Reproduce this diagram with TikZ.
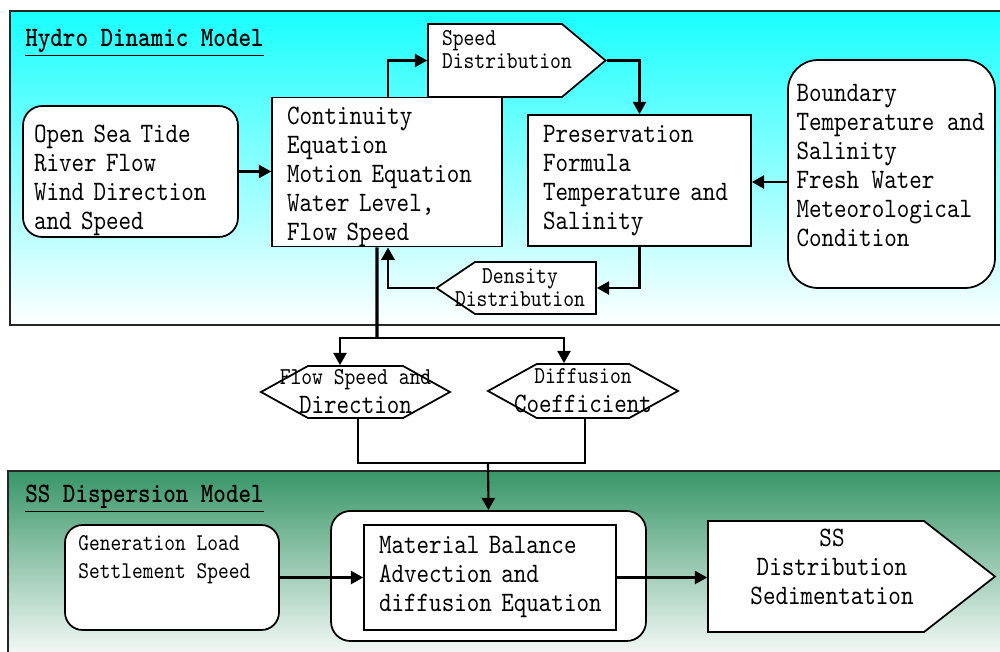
\documentclass[tikz,border=0pt]{standalone}
\usepackage{fontspec}
\usetikzlibrary{arrows.meta,shapes.symbols,positioning}

\newfontfamily\diagfont[FakeStretch=0.85,BoldFont=lmmonolt10-bold.otf]{lmmono10-regular.otf}
\newcommand{\dgnormal}{\fontsize{16}{16.5}\selectfont}
\newcommand{\dgsmall}{\fontsize{13.8}{13.1}\selectfont}
\newcommand{\dgcond}{\fontsize{13.7}{15.9}\selectfont}

\definecolor{hydrocyan}{RGB}{25,255,255}
\definecolor{ssgreen}{RGB}{56,150,104}

\begin{document}
\begin{tikzpicture}[x=0.02cm,y=-0.02cm,
	every node/.style={font=\diagfont\dgnormal},
	box/.style={draw=black,fill=white,line width=1pt,inner sep=0pt,align=left},
	rbox/.style={box,rounded corners=11pt},
	sig/.style={box,shape=signal,align=center},
	lbl/.style={anchor=north west,align=left,inner sep=0pt},
	link/.style={line width=1.2pt,-{Triangle[length=7pt,width=7.5pt]}},
	wire/.style={line width=1.2pt},
	trunk/.style={line width=1.8pt},
	panel/.style={draw=black!85,line width=0.9pt},
	heading/.style={anchor=west,inner sep=0pt,font=\diagfont\dgnormal\bfseries}]

	\useasboundingbox (0,0) rectangle (1000,652);
	\clip (0,0) rectangle (1000,652);

	% the two model panels
	\draw[panel,top color=hydrocyan,bottom color=white] (10,11) rectangle (1015,325);
	\draw[panel,top color=ssgreen,bottom color=white] (8,471) rectangle (1015,665);

	% hydro dynamic part
	\node[heading] (hydro) at (25,43) {\underline{Hydro Dinamic Model}};
	\node[rbox,minimum width=4.3cm,minimum height=2.62cm,text width=3.86cm] (open) at (130.5,171.5) {\mbox{}\\[0.12cm]Open Sea Tide\\River Flow\\Wind Direction\\and Speed};
	\node[box,minimum width=4.6cm,minimum height=2.96cm,text width=4cm] (cont) at (387,172) {\mbox{}\\[-0.04cm]Continuity\\Equation\\Motion Equation\\Water Level,\\Flow Speed};
	\node[sig,signal to=east,signal pointer angle=80,minimum height=1.46cm,text width=2.12cm,inner xsep=0.28cm,align=left,font=\diagfont\dgsmall] (spd) at (495,60.5) {Speed\\\mbox{Distribution}\\\mbox{}};
	\node[box,minimum width=4.46cm,minimum height=2.62cm,text width=3.86cm] (pres) at (639.5,180.5) {Preservation\\Formula\\Temperature and\\Salinity};
	\node[rbox,rounded corners=17pt,minimum width=4.14cm,minimum height=4.56cm,
		label={[lbl,xshift=0.18cm,yshift=-0.5cm]north west:{Boundary\\Temperature and\\Salinity\\Fresh Water\\Meteorological\\Condition}}] (bnd) at (891.5,174) {};
	\node[sig,signal to=west,signal pointer angle=68,minimum height=1.04cm,text width=2.42cm,font=\diagfont\dgsmall] (dens) at (535.5,288) {\makebox[0pt]{Density\hspace*{0.62cm}}\\\makebox[0pt]{Distribution\hspace*{0.62cm}}};

	% exchanged quantities
	\node[sig,signal to=east and west,signal pointer angle=58,minimum width=3.78cm,minimum height=1.04cm] (flow) at (355.5,392) {\makebox[0pt]{\dgsmall Flow Speed and}\\\makebox[0pt]{Direction}};
	\node[sig,signal to=east and west,signal pointer angle=58,minimum width=3.8cm,minimum height=1.08cm] (diff) at (583,391) {\makebox[0pt]{\dgsmall Diffusion}\\\makebox[0pt]{Coefficient}};

	% ss dispersion part
	\node[heading] (ssmod) at (25,499) {\underline{SS Dispersion Model}};
	\node[rbox,rounded corners=10pt,minimum width=4.28cm,minimum height=2.1cm,
		label={[lbl,font=\diagfont\dgcond,xshift=0.28cm,yshift=-0.22cm]north west:{Generation Load\\Settlement Speed}}] (gen) at (172,577.5) {};
	\node[rbox,minimum width=6.3cm,minimum height=2.6cm] (outer) at (488.5,576) {};
	\node[box,minimum width=5.04cm,minimum height=2.1cm,text width=4.44cm] (mat) at (490,577.5) {Material Balance\\Advection and\\\mbox{diffusion Equation}};
	\node[sig,signal to=east,signal pointer angle=76,minimum height=2.22cm,text width=4.32cm] (ss) at (816,576.5) {\makebox[0pt]{\hspace*{0.64cm}SS}\\\makebox[0pt]{\hspace*{0.64cm}Distribution}\\\makebox[0pt]{\hspace*{0.64cm}Sedimentation}\\[-0.2cm]\mbox{}};

	% connectors
	\coordinate (split) at (377,338);
	\coordinate (join) at (488,463);
	\draw[link] (open.east) -- (open.east -| cont.west);
	\draw[link] ([xshift=0.02cm]cont.north) |- (spd.west);
	\draw[link] (spd.east) -| (pres.north);
	\draw[link] (bnd.west |- 0,182) -- (pres.east |- 0,182);
	\draw[link] (pres.south) |- (dens.east);
	\draw[link] (dens.west) -| ([xshift=0.02cm]cont.south);
	\draw[trunk] ([xshift=-0.2cm]cont.south) -- (split);
	\draw[link] (split) -| ([xshift=-0.31cm]flow.north);
	\draw[link] (split) -| ([xshift=-0.38cm]diff.north);
	\draw[wire] ([xshift=0.05cm]flow.south) |- (join);
	\draw[wire] ([xshift=0.04cm]diff.south) |- (join);
	\draw[link] (join) -- (outer.north);
	\draw[link] (gen.east) -- (gen.east -| mat.west);
	\draw[link] (mat.east) -- (mat.east -| ss.west);
\end{tikzpicture}
\end{document}
